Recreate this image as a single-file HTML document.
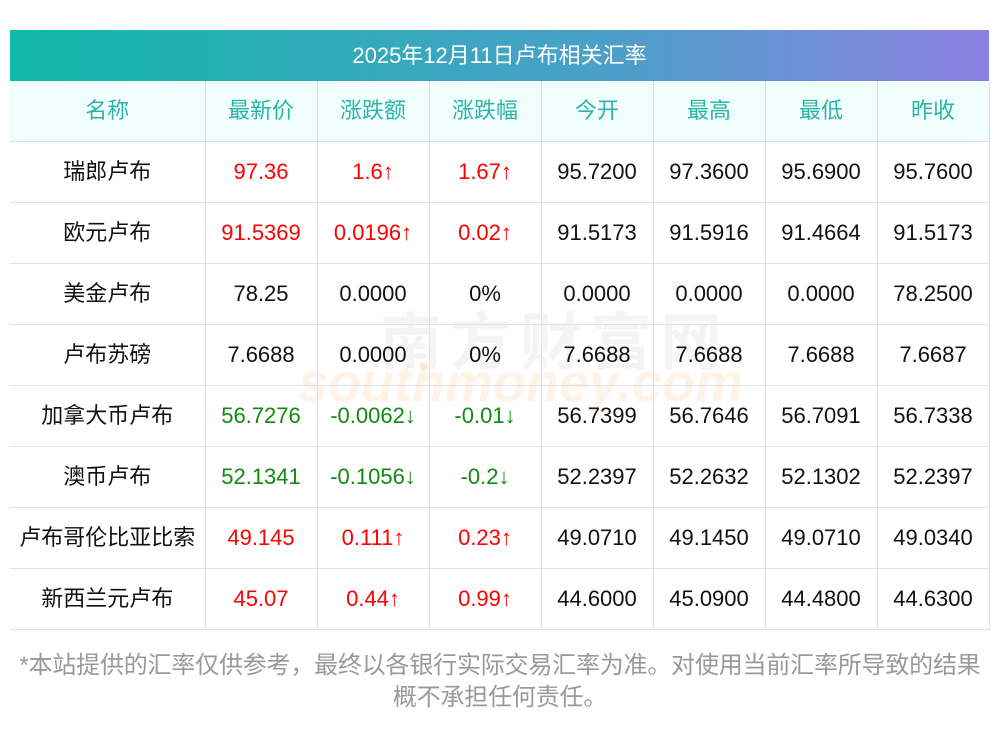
<!DOCTYPE html>
<html><head><meta charset="utf-8"><style>
body{margin:0;width:1000px;height:733px;background:#fff;font-family:"Liberation Sans","Noto Sans CJK SC",sans-serif;position:relative;overflow:hidden}
.title{position:absolute;left:10px;top:30px;width:979px;height:51px;background:linear-gradient(90deg,#12b8a8,#4aa0c8 60%,#8c80e0);color:#fff;font-size:22px;text-align:center;line-height:51px}
table{position:absolute;left:10px;top:81px;border-collapse:collapse;width:979px;table-layout:fixed}
td{border:1px solid #dfe1ea;text-align:center;font-size:22px;line-height:24px;height:60px;padding:0;color:#111;white-space:nowrap}
tr:first-child td{background:#f0fffe;color:#2db3a6;border-top:none}
tr td:first-child{border-left:none}
tr td:last-child{border-right:1px solid #dfe1ea}
.r{color:#f00}.g{color:#118a11}
.note{position:absolute;left:0px;top:650px;width:1000px;text-align:center;color:#999;font-size:24px;line-height:32px;letter-spacing:-0.2px}
.wm{position:absolute;white-space:nowrap;font-weight:bold}
</style></head><body>
<div class="title">2025年12月11日卢布相关汇率</div>
<div class="wm" style="left:380px;top:292px;font-size:62px;letter-spacing:8px;color:rgba(150,150,150,0.10)">南方财富网</div>
<div class="wm" style="left:298px;top:352px;font-size:54px;font-style:italic;color:rgba(245,170,80,0.14)">southmoney.com</div>
<table>
<colgroup><col style="width:195px"><col style="width:112px"><col style="width:112px"><col style="width:112px"><col style="width:112px"><col style="width:112px"><col style="width:112px"><col style="width:112px"></colgroup>
<tr><td>名称</td><td>最新价</td><td>涨跌额</td><td>涨跌幅</td><td>今开</td><td>最高</td><td>最低</td><td>昨收</td></tr>
<tr><td>瑞郎卢布</td><td class="r">97.36</td><td class="r">1.6↑</td><td class="r">1.67↑</td><td>95.7200</td><td>97.3600</td><td>95.6900</td><td>95.7600</td></tr>
<tr><td>欧元卢布</td><td class="r">91.5369</td><td class="r">0.0196↑</td><td class="r">0.02↑</td><td>91.5173</td><td>91.5916</td><td>91.4664</td><td>91.5173</td></tr>
<tr><td>美金卢布</td><td>78.25</td><td>0.0000</td><td>0%</td><td>0.0000</td><td>0.0000</td><td>0.0000</td><td>78.2500</td></tr>
<tr><td>卢布苏磅</td><td>7.6688</td><td>0.0000</td><td>0%</td><td>7.6688</td><td>7.6688</td><td>7.6688</td><td>7.6687</td></tr>
<tr><td>加拿大币卢布</td><td class="g">56.7276</td><td class="g">-0.0062↓</td><td class="g">-0.01↓</td><td>56.7399</td><td>56.7646</td><td>56.7091</td><td>56.7338</td></tr>
<tr><td>澳币卢布</td><td class="g">52.1341</td><td class="g">-0.1056↓</td><td class="g">-0.2↓</td><td>52.2397</td><td>52.2632</td><td>52.1302</td><td>52.2397</td></tr>
<tr><td>卢布哥伦比亚比索</td><td class="r">49.145</td><td class="r">0.111↑</td><td class="r">0.23↑</td><td>49.0710</td><td>49.1450</td><td>49.0710</td><td>49.0340</td></tr>
<tr><td>新西兰元卢布</td><td class="r">45.07</td><td class="r">0.44↑</td><td class="r">0.99↑</td><td>44.6000</td><td>45.0900</td><td>44.4800</td><td>44.6300</td></tr>
</table>
<div class="note">*本站提供的汇率仅供参考，最终以各银行实际交易汇率为准。对使用当前汇率所导致的结果<br>概不承担任何责任。</div>
</body></html>
